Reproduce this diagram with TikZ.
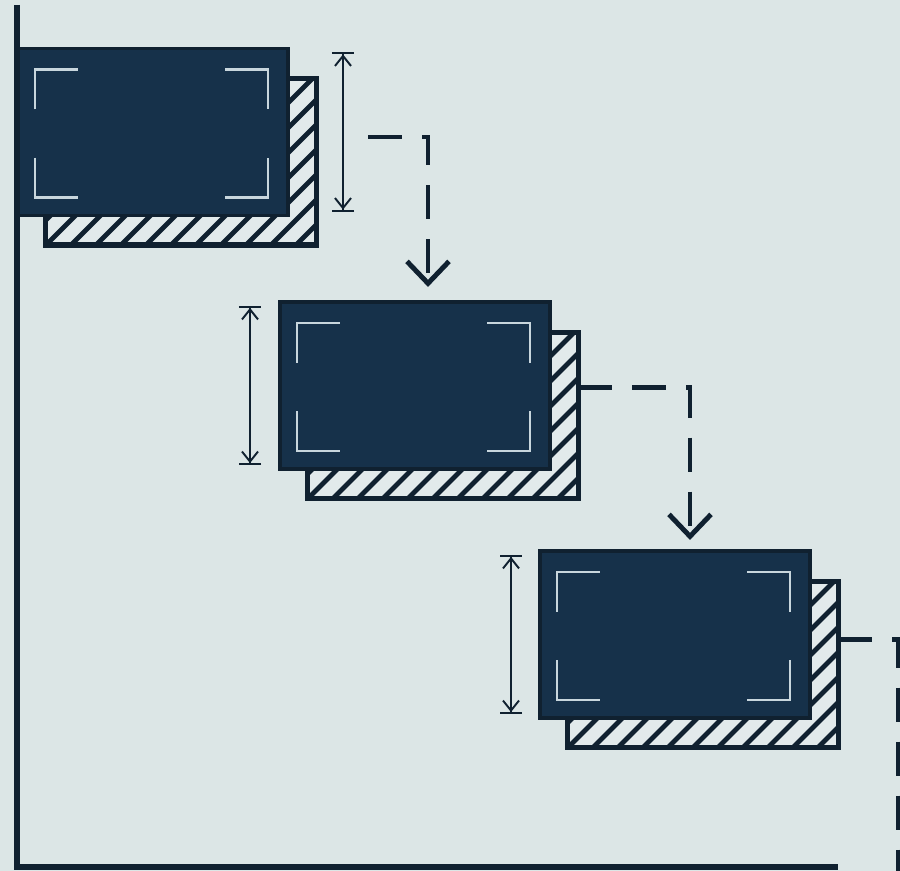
\documentclass[tikz,border=0pt]{standalone}
\usepackage{tikz}
\usetikzlibrary{arrows.meta,calc}

\begin{document}
\begin{tikzpicture}[x=0.01cm, y=-0.01cm, line join=miter]
  \definecolor{bgcol}{RGB}{220,230,230}
  \definecolor{navycol}{RGB}{22,49,74}
  \definecolor{edgecol}{RGB}{16,33,48}
  \definecolor{hatchcol}{RGB}{226,234,235}
  \definecolor{markcol}{RGB}{200,214,221}
  \tikzset{
    frontbox/.style={rectangle, fill=navycol, draw=edgecol, line width=1pt,
                     minimum width=2.7cm, minimum height=1.67cm, inner sep=0pt, outer sep=0pt},
    backbox/.style={rectangle, fill=hatchcol,
                    minimum width=2.7cm, minimum height=1.66cm, inner sep=0pt, outer sep=0pt},
    boxedge/.style={draw=edgecol, line width=1.45pt},
    hatchline/.style={draw=edgecol, line width=1.35pt},
    cornermark/.style={draw=markcol, line width=0.8pt},
    dimline/.style={draw=edgecol, line width=0.55pt,
                    {Bar[width=2.2mm,sep=0pt]Straight Barb[length=1mm,width=1.6mm]}-{Straight Barb[length=1mm,width=1.6mm]Bar[width=2.2mm,sep=0pt]}},
    flowline/.style={draw=edgecol, line width=1.4pt, dash pattern=on 0.34cm off 0.2cm,
                     -{Straight Barb[length=2.2mm,width=4.2mm]}},
    axisline/.style={draw=edgecol, line width=1.7pt}
  }
  \path[use as bounding box, fill=bgcol] (0,0) rectangle (900,871);

  \coordinate (origin) at (17,867);
  \draw[axisline] (17,5) -- (origin) -- (838,867);

  \foreach \i/\x/\y/\dimx in {1/153/132/190, 2/415/385.5/-165, 3/675/634.5/-164} {%
    \node[backbox] (b\i) at ($(\x,\y)+(28,30)$) {};
    \begin{scope}
      \clip (b\i.south west) rectangle (b\i.north east);
      \foreach \k in {-9,...,11}
        \draw[hatchline] ($(b\i.south west)+(\k*25,0)$) -- ++(220,-220);
    \end{scope}
    \draw[boxedge] (b\i.south west) rectangle (b\i.north east);
    \node[frontbox] (f\i) at (\x,\y) {};
    \draw[cornermark] ($(f\i.north west)+(17,61)$) |- ($(f\i.north west)+(60,21)$);
    \draw[cornermark] ($(f\i.north east)+(-63,21)$) -| ($(f\i.north east)+(-20,61)$);
    \draw[cornermark] ($(f\i.south west)+(17,-58)$) |- ($(f\i.south west)+(60,-18)$);
    \draw[cornermark] ($(f\i.south east)+(-63,-18)$) -| ($(f\i.south east)+(-20,-58)$);
    \draw[dimline] ($(f\i.north)+(\dimx,4)$) -- ($(f\i.south)+(\dimx,-4)$);
  }

  \coordinate (s1) at (368,137);
  \coordinate (e3) at (898,875);
  \draw[flowline] (s1) -| ($(f2.north)+(13,-15)$);
  \draw[flowline] ($(b2.east)+(0,-28)$) -| ($(f3.north)+(15,-11)$);
  \draw[flowline, -] ($(b3.east)+(0,-25)$) -| (e3);
\end{tikzpicture}
\end{document}
